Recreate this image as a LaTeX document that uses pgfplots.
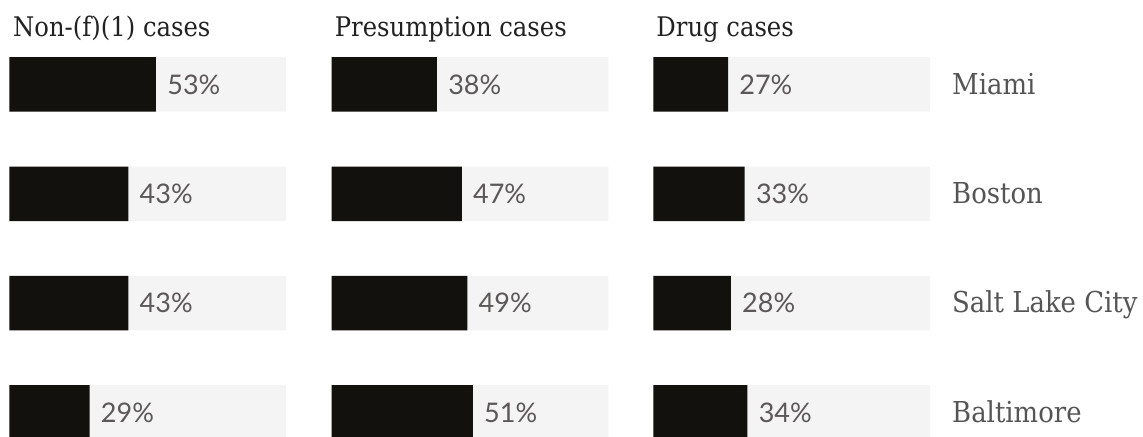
\documentclass[border=0pt]{standalone}
\usepackage{fontspec}
\setmainfont{DejaVu Serif}[FakeStretch=0.9]
\newfontfamily\pctfont{Lato}
\usepackage{pgfplots}
\pgfplotsset{compat=1.18}
\definecolor{barc}{HTML}{13110D}
\definecolor{bgc}{HTML}{F4F4F4}
\definecolor{pctc}{HTML}{5D5858}
\definecolor{cityc}{HTML}{555555}
\definecolor{titlec}{HTML}{222222}
\pgfplotsset{panel/.style={xbar, scale only axis, width=138.35pt, height=218.5pt,
  xmin=0, xmax=100, ymin=0, ymax=437, y dir=reverse, axis lines=none, ticks=none,
  bar width=54.5, bar shift=0pt, enlargelimits=false, anchor=south west},
  bg/.style={fill=bgc, draw=none},
  fg/.style={fill=barc, draw=none, point meta=explicit symbolic,
    nodes near coords={\pgfplotspointmeta\%},
    every node near coord/.append style={anchor=west, inner sep=0pt, xshift=5.5pt,
      font=\pctfont\fontsize{13.5}{14}\selectfont, text=pctc}}}
\begin{document}
\begin{tikzpicture}
\useasboundingbox (0,0) rectangle (571.5pt,218.5pt);
\begin{axis}[panel, at={(4.65pt,0pt)}]
\addplot[bg] coordinates {(100,84.5) (100,193.8) (100,303.1) (100,412.4)};
\addplot[fg] coordinates {(53,84.5)[53] (43,193.8)[43] (43,303.1)[43] (29,412.4)[29]};
\end{axis}
\begin{axis}[panel, at={(165.85pt,0pt)}]
\addplot[bg] coordinates {(100,84.5) (100,193.8) (100,303.1) (100,412.4)};
\addplot[fg] coordinates {(38,84.5)[38] (47,193.8)[47] (49,303.1)[49] (51,412.4)[51]};
\end{axis}
\begin{axis}[panel, at={(326.65pt,0pt)}]
\addplot[bg] coordinates {(100,84.5) (100,193.8) (100,303.1) (100,412.4)};
\addplot[fg] coordinates {(27,84.5)[27] (33,193.8)[33] (28,303.1)[28] (34,412.4)[34]};
\end{axis}
\begin{scope}[every node/.style={inner sep=0pt, anchor=base west, text=titlec, font=\fontsize{13.5}{15}\selectfont}]
\node at (6.4pt,200.15pt) {Non-(f)(1) cases};
\node at (167.2pt,200.15pt) {Presumption cases};
\node at (328pt,200.15pt) {Drug cases};
\end{scope}
\begin{scope}[every node/.style={inner sep=0pt, anchor=base west, text=cityc, font=\fontsize{14.4}{16}\selectfont}]
\node at (475.9pt,171.35pt) {Miami};
\node at (475.9pt,116.7pt) {Boston};
\node at (475.9pt,62.05pt) {Salt Lake City};
\node at (475.9pt,7.4pt) {Baltimore};
\end{scope}
\end{tikzpicture}
\end{document}
